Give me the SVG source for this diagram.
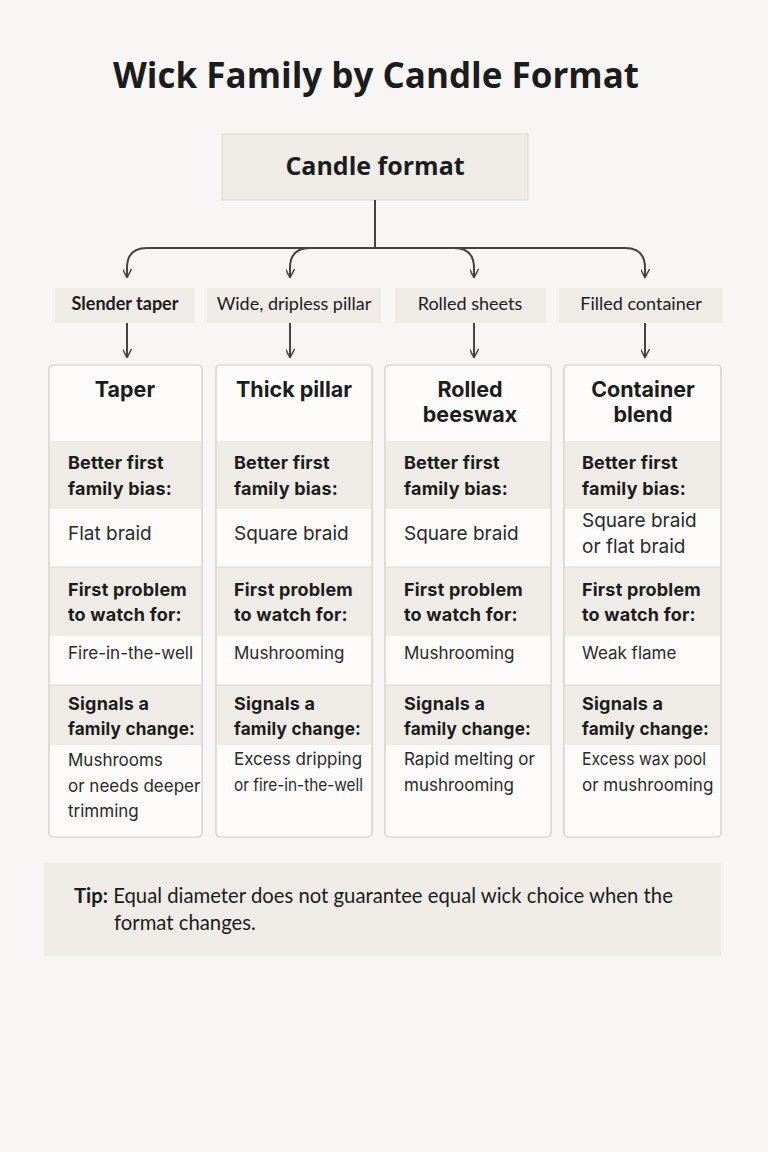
<svg xmlns="http://www.w3.org/2000/svg" width="768" height="1152" viewBox="0 0 768 1152">
<defs>
<marker id="arr" viewBox="0 0 10 10" refX="9" refY="5" markerWidth="9" markerHeight="9" markerUnits="userSpaceOnUse" orient="auto">
<path d="M0,0 L10,5 L0,10" fill="none" stroke="#444" stroke-width="1.6"/>
</marker>
<style>
text{font-family:Inter,"Open Sans","Liberation Sans",sans-serif;fill:#1c1c1c}
.title{font-family:"Open Sans",Lato,sans-serif;font-size:35px;font-weight:700}
.root{font-family:"Open Sans",Lato,sans-serif;font-size:25px;font-weight:700}
.lab{font-family:Lato,"Open Sans",sans-serif;font-size:18px}
.hd{font-size:21.5px;font-weight:700}
.b{font-size:18px;font-weight:700;letter-spacing:0.2px}
.v{font-size:17px;fill:#2a2a2a}
.vb{font-size:19px;fill:#2a2a2a}
.shade{fill:#efebe6}
.card{fill:#fdfcfb;stroke:#cdc8c3;stroke-width:1.2}
.div{stroke:#dcd7d2;stroke-width:1}
.con{fill:none;stroke:#444;stroke-width:2}
.tip{font-family:Lato,"Open Sans",sans-serif;font-size:20.3px}
</style>
</defs>
<rect width="768" height="1152" fill="#f8f6f4"/>
<text class="title" x="376" y="88" text-anchor="middle">Wick Family by Candle Format</text>

<g id="root">
<rect x="222" y="134" width="306" height="66" fill="#efebe6" stroke="#dcd7d2"/>
<text class="root" x="375" y="175" text-anchor="middle">Candle format</text>
</g>

<g id="connectors">
<path class="con" d="M375,200 V248"/>
<path class="con" d="M375,248 H147 Q127,248 127,268 V277" marker-end="url(#arr)"/>
<path class="con" d="M375,248 H310 Q290,248 290,268 V277" marker-end="url(#arr)"/>
<path class="con" d="M375,248 H454 Q474,248 474,268 V277" marker-end="url(#arr)"/>
<path class="con" d="M375,248 H625 Q645,248 645,268 V277" marker-end="url(#arr)"/>
<path class="con" d="M127,323 V357" marker-end="url(#arr)"/>
<path class="con" d="M290,323 V357" marker-end="url(#arr)"/>
<path class="con" d="M474,323 V357" marker-end="url(#arr)"/>
<path class="con" d="M645,323 V357" marker-end="url(#arr)"/>
</g>

<g id="label-taper">
<rect x="55" y="288" width="140" height="35" class="shade"/>
<text class="lab" x="125" y="310" text-anchor="middle" font-weight="700" font-size="19">Slender taper</text>
</g>
<g id="label-pillar">
<rect x="207" y="288" width="174" height="35" class="shade"/>
<text class="lab" x="294" y="310" text-anchor="middle">Wide, dripless pillar</text>
</g>
<g id="label-rolled">
<rect x="395" y="288" width="151" height="35" class="shade"/>
<text class="lab" x="470" y="310" text-anchor="middle">Rolled sheets</text>
</g>
<g id="label-container">
<rect x="559" y="288" width="164" height="35" class="shade"/>
<text class="lab" x="641" y="310" text-anchor="middle">Filled container</text>
</g>

<g id="card-taper">
<rect class="card" x="49" y="365" width="153" height="472" rx="4"/>
<rect class="shade" x="50" y="441" width="151" height="68"/>
<rect class="shade" x="50" y="567" width="151" height="69"/>
<rect class="shade" x="50" y="685" width="151" height="60"/>
<line class="div" x1="50" y1="567" x2="201" y2="567"/><line class="div" x1="50" y1="685" x2="201" y2="685"/>
<text class="hd" x="125" y="397" text-anchor="middle">Taper</text>
<text class="b" x="68" y="469">Better first</text><text class="b" x="68" y="495">family bias:</text>
<text class="vb" x="68" y="540">Flat braid</text>
<text class="b" x="68" y="596">First problem</text><text class="b" x="68" y="621">to watch for:</text>
<text class="v" x="68" y="659">Fire-in-the-well</text>
<text class="b" x="68" y="710">Signals a</text><text class="b" x="68" y="735" textLength="127" lengthAdjust="spacingAndGlyphs">family change:</text>
<text class="v" x="68" y="766">Mushrooms</text><text class="v" x="68" y="792">or needs deeper</text><text class="v" x="68" y="817">trimming</text>
</g>

<g id="card-pillar">
<rect class="card" x="216" y="365" width="156" height="472" rx="4"/>
<rect class="shade" x="217" y="441" width="154" height="68"/>
<rect class="shade" x="217" y="567" width="154" height="69"/>
<rect class="shade" x="217" y="685" width="154" height="60"/>
<line class="div" x1="217" y1="567" x2="371" y2="567"/><line class="div" x1="217" y1="685" x2="371" y2="685"/>
<text class="hd" x="294" y="397" text-anchor="middle">Thick pillar</text>
<text class="b" x="234" y="469">Better first</text><text class="b" x="234" y="495">family bias:</text>
<text class="vb" x="234" y="540">Square braid</text>
<text class="b" x="234" y="596">First problem</text><text class="b" x="234" y="621">to watch for:</text>
<text class="v" x="234" y="659">Mushrooming</text>
<text class="b" x="234" y="710">Signals a</text><text class="b" x="234" y="735" textLength="127" lengthAdjust="spacingAndGlyphs">family change:</text>
<text class="v" x="234" y="765">Excess dripping</text><text class="v" x="234" y="791" textLength="129" lengthAdjust="spacingAndGlyphs">or fire-in-the-well</text>
</g>

<g id="card-rolled">
<rect class="card" x="385" y="365" width="166" height="472" rx="4"/>
<rect class="shade" x="386" y="441" width="164" height="68"/>
<rect class="shade" x="386" y="567" width="164" height="69"/>
<rect class="shade" x="386" y="685" width="164" height="60"/>
<line class="div" x1="386" y1="567" x2="550" y2="567"/><line class="div" x1="386" y1="685" x2="550" y2="685"/>
<text class="hd" x="470" y="397" text-anchor="middle">Rolled</text><text class="hd" x="470" y="422" text-anchor="middle">beeswax</text>
<text class="b" x="404" y="469">Better first</text><text class="b" x="404" y="495">family bias:</text>
<text class="vb" x="404" y="540">Square braid</text>
<text class="b" x="404" y="596">First problem</text><text class="b" x="404" y="621">to watch for:</text>
<text class="v" x="404" y="659">Mushrooming</text>
<text class="b" x="404" y="710">Signals a</text><text class="b" x="404" y="735" textLength="127" lengthAdjust="spacingAndGlyphs">family change:</text>
<text class="v" x="404" y="765">Rapid melting or</text><text class="v" x="404" y="791">mushrooming</text>
</g>

<g id="card-container">
<rect class="card" x="564" y="365" width="157" height="472" rx="4"/>
<rect class="shade" x="565" y="441" width="155" height="68"/>
<rect class="shade" x="565" y="567" width="155" height="69"/>
<rect class="shade" x="565" y="685" width="155" height="60"/>
<line class="div" x1="565" y1="567" x2="720" y2="567"/><line class="div" x1="565" y1="685" x2="720" y2="685"/>
<text class="hd" x="643" y="397" text-anchor="middle">Container</text><text class="hd" x="643" y="422" text-anchor="middle">blend</text>
<text class="b" x="582" y="469">Better first</text><text class="b" x="582" y="495">family bias:</text>
<text class="vb" x="582" y="527">Square braid</text><text class="vb" x="582" y="553">or flat braid</text>
<text class="b" x="582" y="596">First problem</text><text class="b" x="582" y="621">to watch for:</text>
<text class="v" x="582" y="659">Weak flame</text>
<text class="b" x="582" y="710">Signals a</text><text class="b" x="582" y="735" textLength="127" lengthAdjust="spacingAndGlyphs">family change:</text>
<text class="v" x="582" y="765" textLength="124" lengthAdjust="spacingAndGlyphs">Excess wax pool</text><text class="v" x="582" y="791">or mushrooming</text>
</g>

<g id="tip">
<rect x="44" y="863" width="677" height="93" class="shade"/>
<text class="tip" x="74" y="903"><tspan font-weight="700">Tip:</tspan> Equal diameter does not guarantee equal wick choice when the</text>
<text class="tip" x="114" y="930">format changes.</text>
</g>
</svg>
